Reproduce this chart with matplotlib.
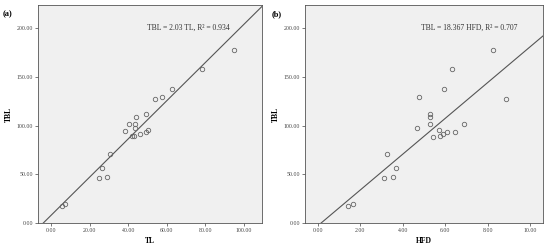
import numpy as np
import matplotlib.pyplot as plt
from matplotlib.ticker import FormatStrFormatter

plt.rcParams['font.family'] = ['Liberation Serif', 'DejaVu Serif']

# (a) TL vs TBL
tl = [6.0, 7.1, 25.0, 26.7, 29.0, 30.7, 38.4, 40.7, 43.6, 44.0, 43.4,
      42.2, 42.9, 45.9, 49.0, 49.0, 50.2, 54.0, 57.6, 62.9, 78.1, 94.8]
tbl_a = [17.8, 19.5, 46.6, 56.2, 47.6, 70.9, 94.2, 101.4, 101.4, 108.9, 97.6,
         89.0, 89.7, 90.8, 111.3, 93.5, 95.9, 126.7, 129.5, 137.0, 158.2, 177.7]
fit_a = (1.96, 7.8)  # slope, intercept of drawn line

# (b) HFD vs TBL
hfd = [1.41, 1.67, 3.11, 3.56, 3.67, 3.27, 4.69, 4.78, 5.28, 5.28, 5.28,
       5.44, 5.69, 5.73, 5.88, 6.08, 6.45, 6.89, 5.92, 6.33, 8.23, 8.84]
tbl_b = [17.5, 19.5, 46.6, 47.6, 56.2, 70.9, 97.6, 129.5, 111.3, 109.2, 101.4,
         88.7, 95.5, 89.4, 90.8, 93.5, 93.8, 101.4, 137.0, 158.2, 177.7, 126.7]
fit_b = (18.4, -3.0)

fig = plt.figure(figsize=(5.5, 2.49), dpi=100)
ax1 = fig.add_axes([0.069, 0.104, 0.407, 0.876])
ax2 = fig.add_axes([0.5545, 0.104, 0.4325, 0.876])

panels = [
    (ax1, tl, tbl_a, fit_a, (-6.7, 109.2), [0, 20, 40, 60, 80, 100], 'TL',
     'TBL = 2.03 TL, R² = 0.934', 50, '(a)', 0.004),
    (ax2, hfd, tbl_b, fit_b, (-0.59, 10.58), [0, 2, 4, 6, 8, 10], 'HFD',
     'TBL = 18.367 HFD, R² = 0.707', 4.88, '(b)', 0.494),
]

for ax, x, y, fit, xlim, xt, xl, eq, tx, tag, tagx in panels:
    ax.set_facecolor('#f0f0f0')
    xs = np.array(xlim)
    ax.plot(xs, fit[0] * xs + fit[1], color='#555555', lw=0.8)
    ax.plot(x, y, 'o', mfc='none', mec='#666666', ms=3.2, mew=0.6)
    ax.set_xlim(xlim)
    ax.set_ylim(0, 223.5)
    ax.set_xticks(xt)
    ax.set_yticks([0, 50, 100, 150, 200])
    ax.xaxis.set_major_formatter(FormatStrFormatter('%.2f'))
    ax.yaxis.set_major_formatter(FormatStrFormatter('%.2f'))
    ax.tick_params(labelsize=4.2, length=2, width=0.5, colors='#444444', pad=1.5)
    for s in ax.spines.values():
        s.set_color('#555555')
        s.set_linewidth(0.6)
    ax.set_xlabel(xl, fontsize=5.5, fontweight='bold', labelpad=3)
    ax.set_ylabel('TBL', fontsize=5.5, fontweight='bold', labelpad=3)
    ax.text(tx, 200, eq, fontsize=5.5, ha='left', va='center', color='#333333')
    fig.text(tagx, 0.943, tag, fontsize=6, fontweight='bold', ha='left', va='center')

fig.savefig('out.png', dpi=100)
